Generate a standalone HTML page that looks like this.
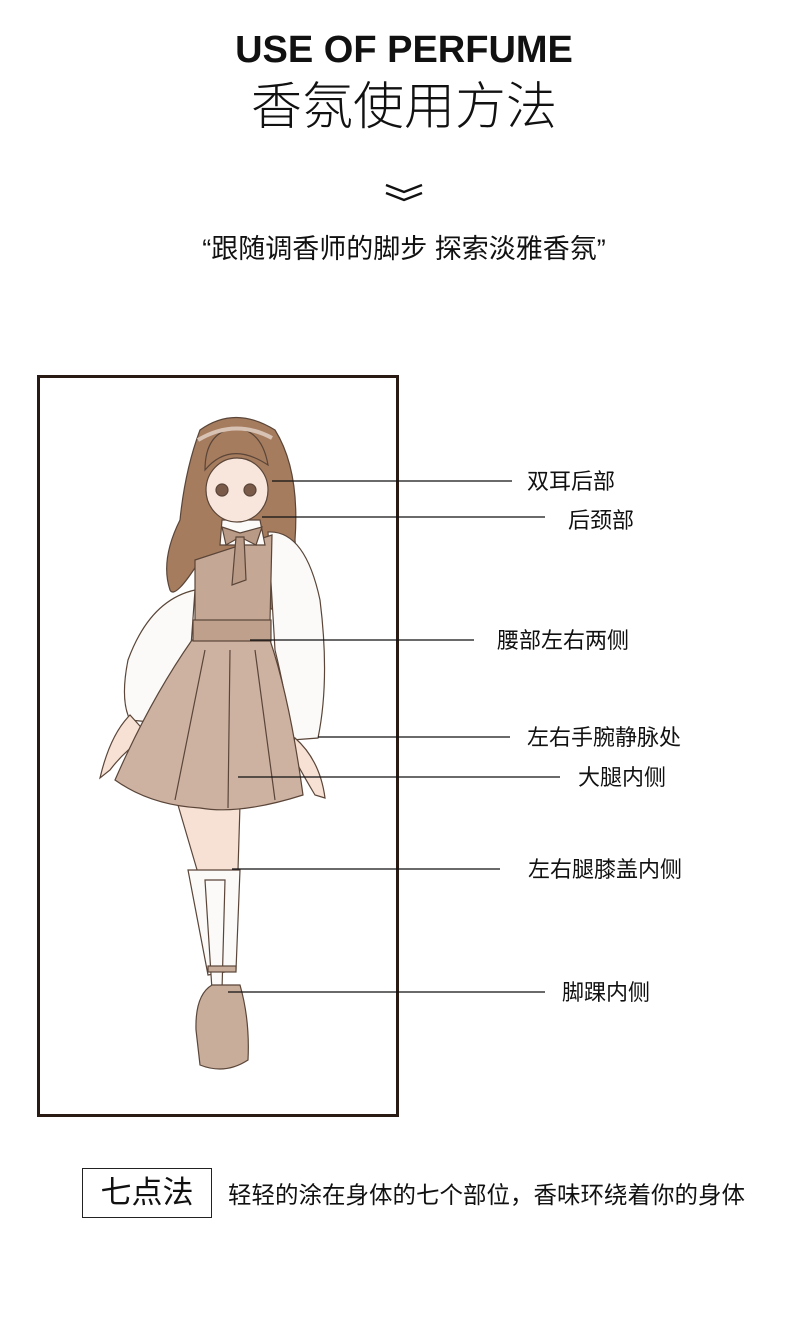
<!DOCTYPE html>
<html><head><meta charset="utf-8"><style>
body{margin:0;background:#fff;}
#p{position:relative;width:790px;height:1323px;overflow:hidden;font-family:"Liberation Sans","Noto Sans CJK SC",sans-serif;color:#111;}
.t{position:absolute;white-space:nowrap;}
.lab{position:absolute;font-size:22px;line-height:26px;white-space:nowrap;color:#111;}
</style></head><body><div id="p">
<div class="t" style="left:0;width:808px;text-align:center;top:28px;font-size:38px;font-weight:bold;line-height:44px;">USE OF PERFUME</div>
<div class="t" style="left:0;width:808px;text-align:center;top:78px;font-size:51px;font-weight:300;line-height:58px;">香氛使用方法</div>
<svg style="position:absolute;left:384px;top:182px" width="40" height="22"><polyline points="2,3 20,10 38,3" fill="none" stroke="#111" stroke-width="2.4"/><polyline points="2,11 20,18 38,11" fill="none" stroke="#111" stroke-width="2.4"/></svg>
<div class="t" style="left:0;width:808px;text-align:center;top:232px;font-size:27px;line-height:34px;">“跟随调香师的脚步 探索淡雅香氛”</div>

<div style="position:absolute;left:37px;top:375px;width:356px;height:736px;border:3px solid #2a1a14;"></div>

<svg style="position:absolute;left:0;top:0" width="790" height="1323">
<g stroke="#5a4538" stroke-width="1.2">
<path d="M200 430 Q235 405 275 430 Q300 470 295 540 Q300 590 285 617 Q250 600 240 560 L200 560 Q175 600 170 590 Q160 560 180 520 Q185 470 200 430Z" fill="#a67c5f"/>
<path d="M195 590 Q150 600 128 660 Q120 700 130 720 L150 722 Q165 690 190 660Z" fill="#fbfaf8"/>
<path d="M268 532 Q305 530 320 600 Q330 680 318 738 L292 740 Q285 690 275 650Z" fill="#fbfaf8"/>
<path d="M130 715 Q110 735 100 778 L110 770 Q125 750 148 735Z" fill="#f6e1d4"/>
<path d="M295 738 Q320 760 325 798 L315 795 Q300 770 290 750Z" fill="#f6e1d4"/>
<path d="M178 805 L240 805 L238 870 L232 968 L212 968 L200 880 Z" fill="#f6e1d4"/>
<path d="M188 870 L240 870 L236 970 L208 975 Z" fill="#fbfaf8"/>
<path d="M205 880 L225 880 L222 990 L212 990 Z" fill="#fbfaf8"/>
<path d="M192 640 L270 640 Q290 700 303 795 Q240 815 200 808 Q150 805 115 780 Q150 700 192 640Z" fill="#cdb2a2"/>
<path d="M205 650 L175 800 M230 650 L228 808 M255 650 L275 800" fill="none"/>
<path d="M195 560 L272 535 L270 622 L195 622Z" fill="#c4a795"/>
<rect x="193" y="620" width="78" height="21" fill="#bfa08d"/>
<path d="M222 520 L260 520 L265 545 L220 545Z" fill="#fbfaf8"/>
<path d="M222 527 L240 533 L262 527 L256 545 L240 537 L226 545Z" fill="#b99a86"/>
<path d="M236 537 L232 585 L246 580 L244 537Z" fill="#b99a86"/>
<ellipse cx="237" cy="490" rx="31" ry="32" fill="#f8e6dc"/>
<path d="M205 470 Q230 440 268 465 Q262 430 235 428 Q205 432 205 470Z" fill="#a67c5f"/>
<circle cx="222" cy="490" r="6" fill="#7a5a48"/><circle cx="250" cy="490" r="6" fill="#7a5a48"/>
<path d="M198 440 Q235 418 272 438" fill="none" stroke="#d8c2b4" stroke-width="4"/>
<path d="M196 1030 Q195 995 212 985 L240 985 Q250 1020 248 1060 Q225 1075 200 1065Z" fill="#c9ad9b"/>
<rect x="208" y="966" width="28" height="6" fill="#c9ad9b"/>
</g>
<g stroke="#111" stroke-width="1.2">
<line x1="272" y1="481" x2="512" y2="481"/>
<line x1="262" y1="517" x2="545" y2="517"/>
<line x1="250" y1="640" x2="474" y2="640"/>
<line x1="318" y1="737" x2="510" y2="737"/>
<line x1="238" y1="777" x2="560" y2="777"/>
<line x1="232" y1="869" x2="500" y2="869"/>
<line x1="228" y1="992" x2="545" y2="992"/>
</g>
</svg>

<div class="lab" style="left:527px;top:469px;">双耳后部</div>
<div class="lab" style="left:568px;top:508px;">后颈部</div>
<div class="lab" style="left:497px;top:628px;">腰部左右两侧</div>
<div class="lab" style="left:527px;top:725px;">左右手腕静脉处</div>
<div class="lab" style="left:578px;top:765px;">大腿内侧</div>
<div class="lab" style="left:528px;top:857px;">左右腿膝盖内侧</div>
<div class="lab" style="left:562px;top:980px;">脚踝内侧</div>

<div style="position:absolute;left:82px;top:1168px;width:128px;height:48px;border:1px solid #222;font-size:31px;line-height:48px;text-align:center;">七点法</div>
<div class="t" style="left:228px;top:1180px;font-size:23.5px;line-height:30px;">轻轻的涂在身体的七个部位，香味环绕着你的身体</div>
</div></body></html>
